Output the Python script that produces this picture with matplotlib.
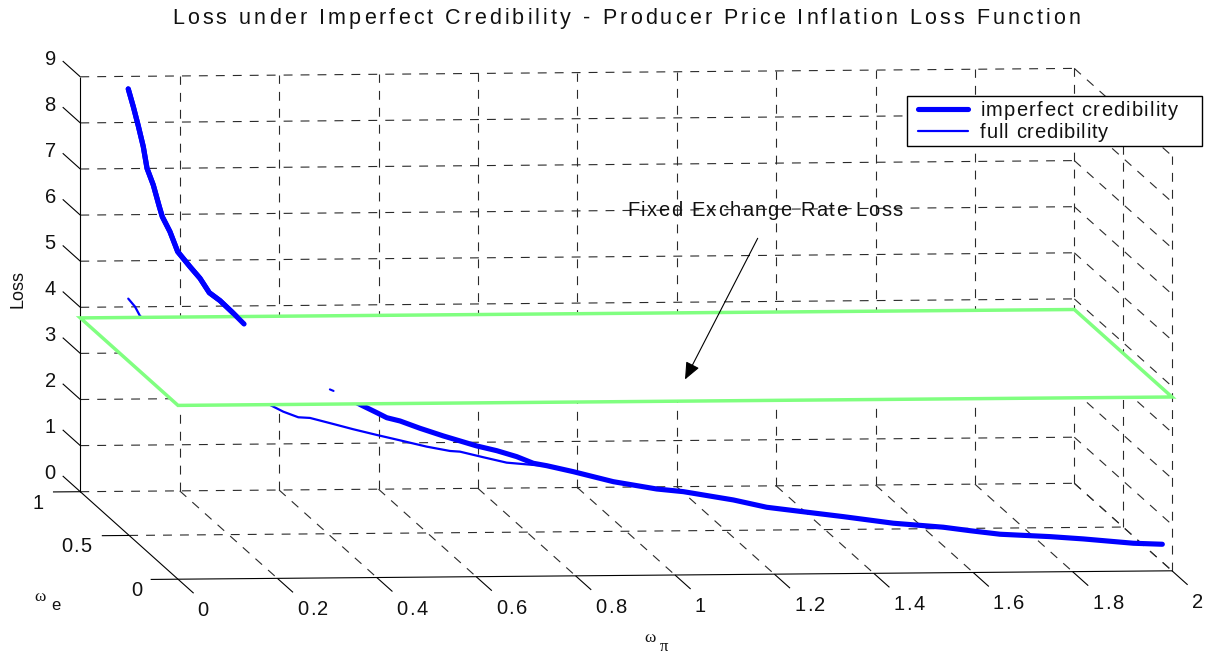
import matplotlib
matplotlib.use("Agg")
import matplotlib.pyplot as plt
from matplotlib.lines import Line2D
from matplotlib.text import Text
from matplotlib.transforms import IdentityTransform

# ---- data -------------------------------------------------------------
TITLE = "Loss under Imperfect Credibility - Producer Price Inflation Loss Function"
x_ticks = [0, 0.2, 0.4, 0.6, 0.8, 1, 1.2, 1.4, 1.6, 1.8, 2]
x_tick_labels = ["0", "0.2", "0.4", "0.6", "0.8", "1", "1.2", "1.4", "1.6", "1.8", "2"]
y_ticks = [0, 0.5, 1]
y_tick_labels = ["0", "0.5", "1"]
z_ticks = [0, 1, 2, 3, 4, 5, 6, 7, 8, 9]
fixed_rate_loss = 3.77

imp_x = [.0660,.0754,.0847,.0941,.1010,.1128,.1240,.1296,.1440,.1584,.1814,.2001,.2175,.2376,.2594,.2825,
         .3685,.4465,.5013,.5307,.5494,.5743,.6117,.6553,.7177,.7552,.7926,.8236,.8487,.8984,.9733,1.0544,
         1.1042,1.1977,1.2602,1.3225,1.4035,1.4970,1.5906,1.6405,1.6966,1.7901,1.8524,1.9459,2.0002]
imp_y = [.845,.841,.837,.834,.831,.827,.822,.820,.815,.809,.800,.793,.786,.779,.770,.761,
         .728,.698,.677,.666,.658,.649,.634,.618,.594,.579,.565,.553,.543,.524,.495,.464,
         .445,.409,.385,.361,.330,.294,.258,.238,.217,.181,.157,.121,.100]
imp_z = [9.025,8.647,8.234,7.791,7.327,6.973,6.509,6.295,5.979,5.555,5.244,5.004,4.703,4.543,4.318,4.066,
         3.405,2.750,2.449,2.301,2.204,2.148,2.014,1.875,1.698,1.620,1.514,1.390,1.354,1.256,1.087,.980,
         .954,.834,.715,.666,.603,.520,.493,.451,.409,.417,.407,.373,.386]
imp_upper_count = 16

full_x = [.0660,.0786,.0879,.2001,.3311,.3560,.3840,.4059,.4495,.4869,.5307,.5743,.6242,.6678,.6865,.7301,.7738,.8236,.8487,.8984,.9733]
full_y = [.845,.840,.836,.793,.743,.733,.722,.714,.697,.683,.666,.649,.630,.613,.606,.589,.572,.553,.543,.524,.495]
full_z = [4.476,4.311,4.115,3.124,2.340,2.210,2.107,2.106,2.003,1.912,1.817,1.728,1.623,1.557,1.554,1.461,1.372,1.354,1.354,1.256,1.087]

speck_x = [.4430, .4500]
speck_y = [.699, .697]
speck_z = [2.75, 2.72]

BLUE = "#0000FF"
GREEN = "#80FF80"
GRID = "#2a2a2a"
INK = "#111111"
SANS = "Liberation Sans"

plt.rcParams["lines.scale_dashes"] = False
plt.rcParams["font.family"] = [SANS, "DejaVu Sans"]
W, H = 1212, 655
fig = plt.figure(figsize=(W / 100, H / 100), dpi=100, facecolor="white")
ax = fig.add_axes([0, 0, 1, 1])
ax.set_xlim(0, W)
ax.set_ylim(H, 0)
ax.axis("off")


class TrackedText(Text):
    """One text whose letters are spread to fill a given width in pixels."""
    span_px = None

    def draw(self, renderer):
        if not self.get_visible():
            return
        s = self.get_text()
        fp = self.get_fontproperties()
        width = lambda t: renderer.get_text_width_height_descent(t, fp, False)[0]
        extra = (self.span_px - width(s)) / max(len(s) - 1, 1)
        x0, y0 = self.get_transform().transform(self.get_position())
        for i, ch in enumerate(s):
            if ch == " ":
                continue
            px = x0 + width(s[:i + 1]) - width(ch) + extra * i
            t = Text(px, y0, ch, transform=IdentityTransform(), fontproperties=fp,
                     color=self.get_color(), ha="left", va="baseline")
            t.set_figure(self.get_figure())
            t.draw(renderer)
        self.stale = False


def tracked(s, left, baseline, span, size, zorder=6):
    t = TrackedText(left, baseline, s, fontsize=size, family=SANS, color=INK,
                    ha="left", va="baseline", zorder=zorder, transform=ax.transData)
    t.span_px = span
    ax.add_artist(t)
    return t


def project(x, y, z):
    """Oblique view of the 3-D box used by the original figure."""
    return (80.3 + 497 * x + 97.7 * (1 - y),
            491.7 - 4.2 * x + 87.5 * (1 - y) - 46.1 * z)


def line3(p, q, dashed=True, **kw):
    (x0, y0), (x1, y1) = project(*p), project(*q)
    style = dict(color=GRID, lw=0.8, zorder=1, ls=(0, (6.4, 5.8))) if dashed else \
        dict(color="black", lw=0.8, zorder=1.5, ls="-")
    style.update(kw)
    ax.plot([x0, x1], [y0, y1], solid_capstyle="butt", dash_capstyle="butt", **style)


def curve(xs, ys, zs, **kw):
    pts = [project(a, b, c) for a, b, c in zip(xs, ys, zs)]
    return ax.plot([p[0] for p in pts], [p[1] for p in pts], color=BLUE,
                   solid_capstyle="round", solid_joinstyle="round", **kw)[0]


zmax, xmax = z_ticks[-1], x_ticks[-1]
# walls and floor grid
for z in z_ticks:
    line3((0, 1, z), (xmax, 1, z))
    line3((xmax, 1, z), (xmax, 0, z))
for x in x_ticks[1:]:
    line3((x, 1, 0), (x, 1, zmax))
    line3((x, 1, 0), (x, 0, 0))
for y in y_ticks[:-1]:
    line3((xmax, y, 0), (xmax, y, zmax))
line3((0, 0.5, 0), (xmax, 0.5, 0))

# box edges
line3((0, 1, 0), (0, 1, zmax), dashed=False)
line3((0, 1, 0), (0, 0, 0), dashed=False)
line3((0, 0, 0), (xmax, 0, 0), dashed=False)

# ticks and tick labels
TICK_SIZE = 14.5
for x, lab in zip(x_ticks, x_tick_labels):
    line3((x, 0, 0), (x, -0.16, 0), dashed=False)
    px, py = project(x, -0.16, 0)
    tracked(lab, px + 4, py + 23, 31 if len(lab) > 1 else 10, TICK_SIZE)
for y, lab, off in zip(y_ticks, y_tick_labels, [(-19, 16.7), (-41, 16.7), (-20.5, 17.3)]):
    line3((0, y, 0), (-0.055, y, 0), dashed=False)
    px, py = project(-0.055, y, 0)
    tracked(lab, px + off[0], py + off[1], 31 if len(lab) > 1 else 10, TICK_SIZE)
for z in z_ticks:
    line3((0, 1, z), (0, 1.18, z), dashed=False)
    px, py = project(0, 1.18, z)
    ax.text(px - 12.5, py + 3.5, str(z), ha="center", va="baseline", fontsize=TICK_SIZE, color=INK)

# series (lower part sits behind the fixed-rate plane)
thick = curve(imp_x, imp_y, imp_z, lw=3.7, zorder=2, label="imperfect credibility")
thin = curve(full_x, full_y, full_z, lw=1.6, zorder=2.2, label="full credibility")

# fixed exchange rate plane
corners = [project(0, 1, fixed_rate_loss), project(xmax, 1, fixed_rate_loss),
           project(xmax, 0, fixed_rate_loss), project(0, 0, fixed_rate_loss)]
ax.fill([c[0] for c in corners], [c[1] for c in corners], facecolor="white",
        edgecolor=GREEN, lw=2.5, joinstyle="miter", zorder=3)

# the part of the thick line lying in front of the plane
curve(imp_x[:imp_upper_count], imp_y[:imp_upper_count], imp_z[:imp_upper_count], lw=3.7, zorder=5)
curve(speck_x, speck_y, speck_z, lw=1.5, zorder=5)

# annotation
tracked("Fixed Exchange Rate Loss", 627, 216.5, 276, 14.5)
ax.annotate("", xy=(685, 379.5), xytext=(757.7, 238.3), zorder=6,
            arrowprops=dict(arrowstyle="-|>,head_length=0.75,head_width=0.32", color="black",
                            lw=0.8, shrinkA=0, shrinkB=0, mutation_scale=14))

# labels
tracked(TITLE, 172, 24, 908, 15.5)
ax.text(18, 289, "Loss", rotation=90, ha="center", va="center", fontsize=13, color=INK)
ax.text(40, 597, "\u03c9", ha="center", va="center", fontsize=12.5, family="Liberation Serif", color=INK)
ax.text(55.5, 606, "e", ha="center", va="center", fontsize=12, color=INK)
ax.text(650.5, 638, "\u03c9", ha="center", va="center", fontsize=12.5, family="Liberation Serif", color=INK)
ax.text(664, 647, "\u03c0", ha="center", va="center", fontsize=12, family="Liberation Serif", color=INK)

# legend: frame drawn at its own size, entries spread to the reference width
ax.add_patch(plt.Rectangle((907.3, 96), 295, 50, facecolor="white", edgecolor="black", lw=1.0, zorder=7.5))
leg = ax.legend(handles=[Line2D([0], [0], color=BLUE, lw=3.7, solid_capstyle="round", label="imperfect credibility"),
                         Line2D([0], [0], color=BLUE, lw=1.6, solid_capstyle="round", label="full credibility")],
                loc="upper left", bbox_to_anchor=(918, 101), bbox_transform=ax.transData,
                prop={"family": SANS, "size": 14.5}, frameon=False, borderaxespad=0, borderpad=0,
                labelspacing=0.15, handlelength=2.49, handletextpad=0.6, labelcolor=INK)
leg.set_zorder(8)
for txt, span in zip(leg.get_texts(), [198, 128]):
    txt.__class__ = TrackedText
    txt.span_px = span

fig.savefig("out.png", dpi=100, facecolor="white")
